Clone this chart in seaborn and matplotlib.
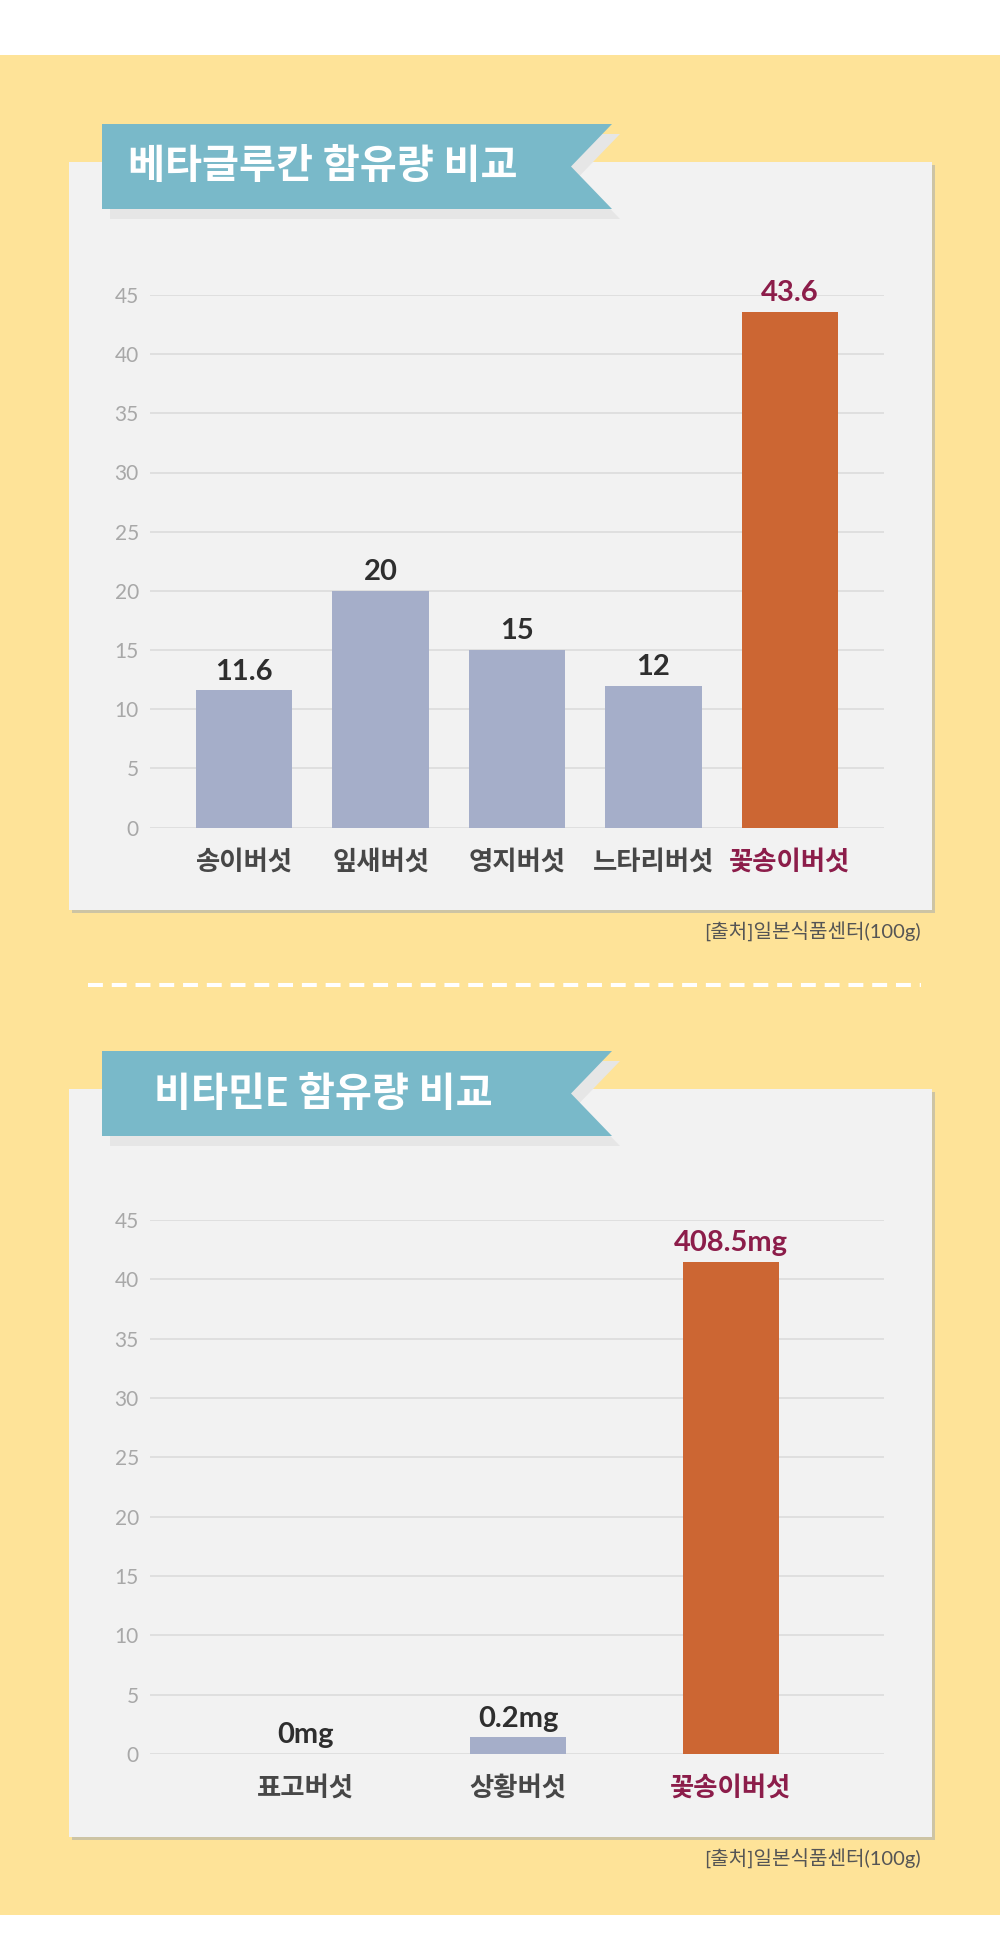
import matplotlib
matplotlib.use("Agg")
import matplotlib.pyplot as plt
from matplotlib.patches import Rectangle, Polygon
import seaborn as sns

# 베타글루칸 함유량 (values as printed over the bars)
beta_names = ["송이버섯", "잎새버섯", "영지버섯", "느타리버섯", "꽃송이버섯"]
beta_values = [11.6, 20, 15, 12, 43.6]
beta_labels = ["11.6", "20", "15", "12", "43.6"]

# 비타민E 함유량: bar heights as drawn on the 0-45 axis, labels as printed
vite_names = ["표고버섯", "상황버섯", "꽃송이버섯"]
vite_heights = [0, 1.4, 41.5]
vite_labels = ["0mg", "0.2mg", "408.5mg"]

y_ticks = [0, 5, 10, 15, 20, 25, 30, 35, 40, 45]

titles = ["베타글루칸 함유량 비교", "비타민E 함유량 비교"]
source_text = "[출처]일본식품센터(100g)"

YELLOW = "#fee398"
PANEL = "#f2f2f2"
RIBBON = "#79b9c9"
BAR = "#a5aec9"
HI_BAR = "#cc6633"
HI_TEXT = "#8c1d4a"
DARK = "#2e2e2e"
LABEL = "#474747"

sns.set_style("white")
plt.rcParams["font.family"] = ["Lato", "Noto Sans CJK KR", "DejaVu Sans"]

W, H = 1000, 1959
fig = plt.figure(figsize=(W / 100, H / 100), dpi=100)
fig.patch.set_facecolor("white")

# background layer in pixel coordinates
bg = fig.add_axes([0, 0, 1, 1], zorder=0)
bg.set_xlim(0, W)
bg.set_ylim(H, 0)
bg.axis("off")
bg.add_patch(Rectangle((0, 55), W, 1860, color=YELLOW, lw=0))


def draw_card(top, title):
    # panel with a thin shadow
    bg.add_patch(Rectangle((72, top + 3), 863, 748, color="#cdc4a4", lw=0))
    bg.add_patch(Rectangle((69, top), 863, 748, color=PANEL, lw=0))
    # ribbon with its shadow
    rt = top - 38
    rb = top + 47
    pts = [(102, rt), (612, rt), (571, (rt + rb) / 2), (612, rb), (102, rb)]
    shadow = [(x + 8, y + 10) for x, y in pts]
    bg.add_patch(Polygon(shadow, closed=True, color="#e6e6e6", lw=0))
    bg.add_patch(Polygon(pts, closed=True, color=RIBBON, lw=0))
    bg.text(323, (rt + rb) / 2, title, color="white", fontsize=29,
            fontweight="bold", ha="center", va="center")
    bg.text(921, top + 770, source_text, color="#555555", fontsize=14.5,
            ha="right", va="center")


draw_card(162, titles[0])
draw_card(1089, titles[1])
bg.plot([88, 921], [985, 985], color="white", lw=2.9,
        linestyle=(0, (3.7, 2.2)), solid_capstyle="butt")


def draw_chart(rect, names, heights, labels, width, xlim):
    ax = fig.add_axes(rect, zorder=1)
    ax.set_facecolor("none")
    palette = {n: BAR for n in names}
    palette[names[-1]] = HI_BAR
    sns.barplot(x=names, y=heights, hue=names, palette=palette, legend=False,
                width=width, saturation=1, linewidth=0, ax=ax)
    ax.set_xlim(*xlim)
    ax.set_ylim(0, 45)
    ax.set_yticks(y_ticks)
    ax.yaxis.grid(True, color="#dcdcdc", lw=1.2)
    ax.set_axisbelow(True)
    sns.despine(ax=ax, left=True, bottom=True)
    ax.tick_params(axis="y", length=0, pad=8, labelsize=15, labelcolor="#a8a8a8")
    ax.tick_params(axis="x", length=0, pad=15, labelsize=19)
    for t in ax.get_xticklabels():
        t.set_fontweight("bold")
        t.set_color(LABEL)
    ax.get_xticklabels()[-1].set_color(HI_TEXT)
    ax.set_xlabel("")
    ax.set_ylabel("")
    for i, cont in enumerate(ax.containers):
        txt = ax.bar_label(cont, labels=[labels[i]], padding=4, fontsize=21,
                           fontweight="bold", color=DARK)
        if i == len(names) - 1:
            for t in txt:
                t.set_color(HI_TEXT)
    return ax


draw_chart([150 / W, 1 - 827.5 / H, 734 / W, 532.5 / H],
           beta_names, beta_values, beta_labels, 0.706, (-0.69, 4.69))
draw_chart([150 / W, 1 - 1754 / H, 734 / W, 534 / H],
           vite_names, vite_heights, vite_labels, 0.453, (-0.73, 2.72))

fig.savefig("out.png", dpi=100)
